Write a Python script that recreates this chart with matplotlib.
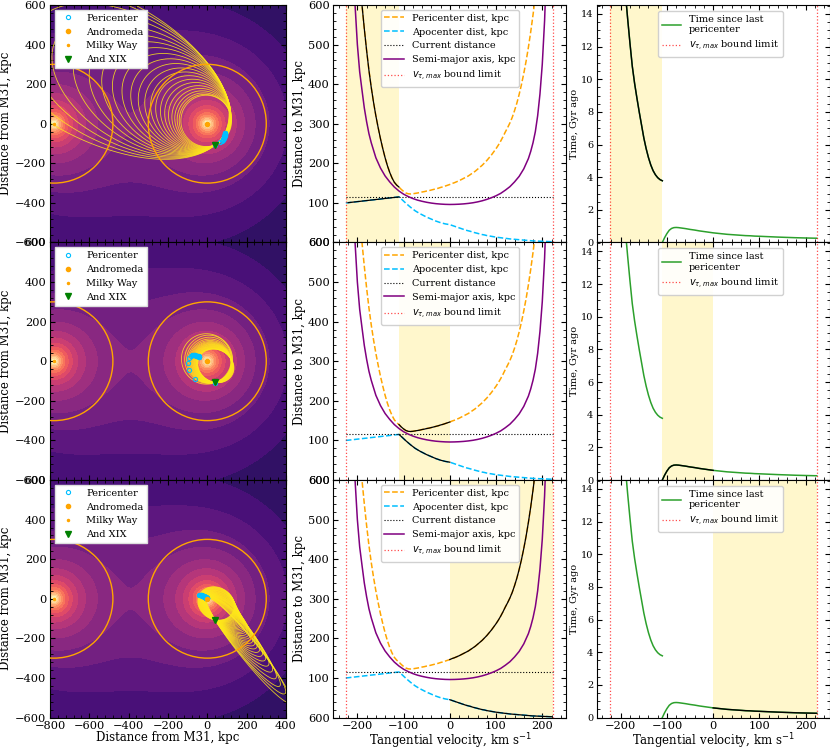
import numpy as np
import matplotlib
matplotlib.use("Agg")
import matplotlib.pyplot as plt
from matplotlib.colors import Normalize
from matplotlib.ticker import AutoMinorLocator, FixedLocator, FixedFormatter, MultipleLocator

plt.rcParams.update({
    "font.family": "DejaVu Serif",
    "mathtext.fontset": "dejavusans",
    "xtick.direction": "in", "ytick.direction": "in",
    "xtick.top": True, "ytick.right": True,
    "xtick.major.size": 3.5, "ytick.major.size": 3.5,
    "xtick.minor.size": 2, "ytick.minor.size": 2,
    "xtick.major.pad": 2.5, "ytick.major.pad": 2.5,
    "xtick.labelsize": 8.2, "ytick.labelsize": 8.2,
    "axes.labelsize": 8.5, "axes.labelpad": 1.5,
    "legend.fontsize": 7,
})

# positions in the M31 frame, kpc
m31_pos = (0.0, 0.0)
mw_pos = (-780.0, 0.0)
halo_radius = 300.0
xix_pos = (40.0, -107.0)
xix_dist = 115.0
v_bound = 224.0

# shaded tangential velocity ranges of the three rows, km/s
shade_ranges = [(-224, -110), (-110, 0), (0, 224)]

# "Apocenter dist" curve (cyan), kpc
apo_v = np.arange(-225, 230, 5)
apo_dist = [100.0, 100.5, 101.2, 101.9, 102.5, 103.2, 103.8, 104.5, 105.2, 105.8,
            106.5, 107.2, 107.8, 108.5, 109.1, 109.8, 110.5, 111.1, 111.8, 112.5,
            113.1, 113.8, 114.5, 115.0, 110.0, 104.5, 99.0, 94.0, 89.0, 84.5,
            80.0, 76.5, 73.0, 70.0, 67.0, 64.0, 61.5, 59.0, 56.5, 54.0,
            52.0, 50.0, 48.5, 47.0, 46.0, 45.0, 43.0, 41.0, 39.0, 37.0,
            35.0, 33.0, 31.0, 29.5, 28.0, 26.0, 24.5, 23.0, 21.5, 20.0,
            19.0, 17.5, 16.5, 15.5, 14.5, 13.5, 12.7, 12.0, 11.2, 10.5,
            9.8, 9.0, 8.5, 8.0, 7.5, 7.0, 6.5, 6.0, 5.5, 5.0,
            4.5, 4.0, 3.8, 3.5, 3.2, 3.0, 2.7, 2.5, 2.2, 2.0, 1.8]

# "Pericenter dist" curve (orange), kpc
peri_v = np.arange(-220, 195, 5)
peri_dist = [1330, 1160, 1010, 880, 760, 670, 600, 540, 485, 435, 392, 354, 320,
             290, 262, 237, 214, 194, 177, 163, 152, 145, 140,
             134, 129, 125, 123, 122.5, 123, 124, 125, 126, 127.5,
             128.5, 130, 131, 132.5, 134, 135.5, 137, 139, 140.5, 142.5,
             144.5, 146.5, 149, 151, 153.5, 156, 159, 162, 165, 168,
             172, 176, 180, 185, 190, 195, 201, 207, 214, 221,
             229, 237, 246, 256, 267, 279, 290, 302, 316, 333,
             352, 374, 399, 427, 458, 493, 532, 575, 622, 675]

# semi-major axis (purple), kpc
semi_v = [-210, -205, -200, -195, -190, -185, -180, -175, -170, -160, -150, -140,
          -130, -120, -110, -100, -90, -80, -70, -60, -50, -40, -30, -20, -10, 0,
          10, 20, 30, 40, 50, 60, 70, 80, 90, 100, 110, 120, 130, 140, 150, 160,
          170, 175, 180, 185, 190, 195, 200, 205, 210]
semi_axis = [800, 600, 500, 431, 385, 340, 305, 275, 252, 214, 188, 168,
             153, 140, 130, 122, 116, 111, 107, 104, 101.5, 99.5, 98, 97, 96.3, 96,
             96.2, 96.7, 97.5, 98.7, 100.3, 102.5, 105.3, 108.8, 113, 118, 124, 132,
             141, 153, 167, 186, 212, 230, 252, 280, 320, 375, 450, 560, 720]

# time since last pericenter, Gyr (two branches)
time_v1 = [-190, -185, -180, -175, -170, -165, -160, -155, -150, -145, -140, -135,
           -130, -125, -120, -115, -110]
time_1 = [15.3, 13.7, 12.2, 10.8, 9.75, 8.85, 8.0, 7.2, 6.4, 5.75, 5.2, 4.75,
          4.4, 4.15, 3.97, 3.85, 3.78]
time_v2 = [-110, -105, -100, -95, -90, -85, -80, -75, -70, -60, -50, -40, -30, -20,
           -10, 0, 10, 20, 30, 40, 50, 60, 70, 80, 90, 100, 120, 140, 160, 180, 200, 224]
time_2 = [0.0, 0.3, 0.55, 0.75, 0.86, 0.91, 0.92, 0.91, 0.89, 0.85, 0.8, 0.76, 0.71, 0.67,
          0.63, 0.59, 0.56, 0.53, 0.5, 0.48, 0.46, 0.44, 0.42, 0.41, 0.39, 0.38, 0.355, 0.33,
          0.31, 0.29, 0.275, 0.26]

apo_v = np.asarray(apo_v); apo_dist = np.asarray(apo_dist)
peri_v = np.asarray(peri_v); peri_dist = np.asarray(peri_dist, dtype=float)
time_v1 = np.asarray(time_v1); time_1 = np.asarray(time_1)
time_v2 = np.asarray(time_v2); time_2 = np.asarray(time_2)

# potential field for the background map
softening = 15.0
gx, gy = np.meshgrid(np.linspace(-800, 400, 400), np.linspace(-600, 600, 400))
r1 = np.hypot(gx - m31_pos[0], gy - m31_pos[1])
r2 = np.hypot(gx - mw_pos[0], gy - mw_pos[1])
field = np.log10(1 / np.hypot(r1, softening) + 1 / np.hypot(r2, softening))
zmin, zmax = field.min(), field.max()
levels = np.linspace(zmin, zmax, 17)
norm = Normalize(vmin=zmin - 0.18 * (zmax - zmin), vmax=zmax)

xix_r = np.hypot(*xix_pos)
xix_phi = np.arctan2(xix_pos[1], xix_pos[0])
psi = np.linspace(0, 2 * np.pi, 600)


def orbit(r_in, r_out, past_peri):
    e = (r_out - r_in) / (r_out + r_in)
    p = 2 * r_in * r_out / (r_in + r_out)
    theta = np.arccos(np.clip((p / xix_r - 1) / e, -1, 1))
    phi_p = xix_phi - theta if past_peri else xix_phi + theta
    r = p / (1 + e * np.cos(psi))
    return (r * np.cos(phi_p + psi), r * np.sin(phi_p + psi),
            r_in * np.cos(phi_p), r_in * np.sin(phi_p))


fig = plt.figure(figsize=(8.3, 7.5), dpi=100)
row_bottoms = [0.6767, 0.36, 0.0433]
h = 0.3167
red_kw = dict(color="red", ls=":", lw=0.9, alpha=0.7)

for i, ((lo, hi), bottom) in enumerate(zip(shade_ranges, row_bottoms)):
    last = i == 2

    # ---- map of orbits
    ax = fig.add_axes([0.0602, bottom, 0.2843, h])
    ax.contourf(gx, gy, field, levels=levels, cmap="magma", norm=norm, zorder=0)
    if i < 2:
        vs = [v for v in peri_v if lo <= v < hi]
    else:
        vs = [v for v in peri_v if v >= lo]
    px, py = [], []
    for v in vs:
        r_a = peri_dist[peri_v == v][0]
        r_p = apo_dist[apo_v == v][0]
        ox, oy, qx, qy = orbit(min(r_a, r_p), max(r_a, r_p), v >= -110)
        ax.plot(ox, oy, color="#ffe81a", lw=0.6, alpha=0.85, zorder=2)
        px.append(qx); py.append(qy)
    for c in (m31_pos, mw_pos):
        ax.add_patch(plt.Circle(c, halo_radius, fill=False, color="orange", lw=1, zorder=3))
    ax.plot(px, py, "o", mfc="none", mec="deepskyblue", ms=3, mew=0.8, zorder=4, label="Pericenter")
    ax.plot(*m31_pos, "o", color="orange", ms=3, zorder=5, label="Andromeda")
    ax.plot(*mw_pos, ".", color="orange", ms=3, zorder=5, label="Milky Way")
    ax.plot(*xix_pos, "v", color="green", ms=5, zorder=6, label="And XIX")
    ax.set_xlim(-800, 400)
    ax.set_ylim(-600, 600)
    ax.xaxis.set_major_locator(MultipleLocator(200))
    ax.yaxis.set_major_locator(MultipleLocator(200))
    ax.xaxis.set_minor_locator(AutoMinorLocator(5))
    ax.yaxis.set_minor_locator(AutoMinorLocator(5))
    ax.set_ylabel("Distance from M31, kpc", labelpad=2.5)
    ax.legend(loc="upper left", framealpha=1, fancybox=False, edgecolor="#dddddd")
    if last:
        ax.set_xlabel("Distance from M31, kpc", labelpad=0.3)
    else:
        ax.tick_params(labelbottom=False)

    # ---- distance curves
    ax = fig.add_axes([0.4016, bottom, 0.2807, h])
    ax.axvspan(lo, hi, color="gold", alpha=0.2, lw=0)
    ax.plot(peri_v, peri_dist, "--", color="orange", lw=1.1, label="Pericenter dist, kpc")
    ax.plot(apo_v, apo_dist, "--", color="deepskyblue", lw=1.1, label="Apocenter dist, kpc")
    ax.hlines(xix_dist, -v_bound, v_bound, color="k", ls=":", lw=0.8, label="Current distance")
    ax.plot(semi_v, semi_axis, "-", color="purple", lw=1.1, label="Semi-major axis, kpc")
    ax.axvline(-v_bound, label=r"$v_{\tau,max}$ bound limit", **red_kw)
    ax.axvline(v_bound, **red_kw)
    m = (peri_v >= lo) & (peri_v <= hi)
    ax.plot(peri_v[m], peri_dist[m], "-", color="k", lw=0.9)
    m = (apo_v >= lo) & (apo_v <= hi)
    ax.plot(apo_v[m], apo_dist[m], "-", color="k", lw=0.9)
    ax.set_xlim(-252, 252)
    ax.set_ylim(0, 600)
    ax.yaxis.set_major_locator(FixedLocator([0, 100, 200, 300, 400, 500, 600]))
    ax.yaxis.set_major_formatter(FixedFormatter(["600", "100", "200", "300", "400", "500", "600"]))
    ax.xaxis.set_major_locator(MultipleLocator(100))
    ax.xaxis.set_minor_locator(AutoMinorLocator(5))
    ax.yaxis.set_minor_locator(AutoMinorLocator(5))
    ax.set_ylabel("Distance to M31, kpc")
    ax.legend(loc="upper center", framealpha=0.9)
    if last:
        ax.set_xlabel(r"Tangential velocity, km s$^{-1}$", labelpad=0.3)
    else:
        ax.tick_params(labelbottom=False)

    # ---- time since pericenter
    ax = fig.add_axes([0.7189, bottom, 0.2807, h])
    ax.axvspan(lo, hi, color="gold", alpha=0.2, lw=0)
    ax.plot(time_v1, time_1, color="tab:green", lw=1.1)
    ax.plot(time_v2, time_2, color="tab:green", lw=1.1, label="Time since last\npericenter")
    ax.axvline(-v_bound, label=r"$v_{\tau,max}$ bound limit", **red_kw)
    ax.axvline(v_bound, **red_kw)
    m = (time_v1 >= lo) & (time_v1 <= hi)
    ax.plot(time_v1[m], time_1[m], color="k", lw=1.0)
    m = (time_v2 >= lo) & (time_v2 <= hi)
    ax.plot(time_v2[m], time_2[m], color="k", lw=1.0)
    ax.set_xlim(-252, 252)
    ax.set_ylim(0, 14.55)
    ax.yaxis.set_major_locator(MultipleLocator(2))
    ax.yaxis.set_minor_locator(AutoMinorLocator(4))
    ax.xaxis.set_major_locator(MultipleLocator(100))
    ax.xaxis.set_minor_locator(AutoMinorLocator(5))
    ax.tick_params(axis="y", labelsize=7)
    ax.set_ylabel("Time, Gyr ago", fontsize=7)
    ax.legend(loc="upper center", bbox_to_anchor=(0.53, 0.975), borderaxespad=0, framealpha=0.9)
    if last:
        ax.set_xlabel(r"Tangential velocity, km s$^{-1}$", labelpad=0.3)
    else:
        ax.tick_params(labelbottom=False)

fig.savefig("out.png", dpi=100)
